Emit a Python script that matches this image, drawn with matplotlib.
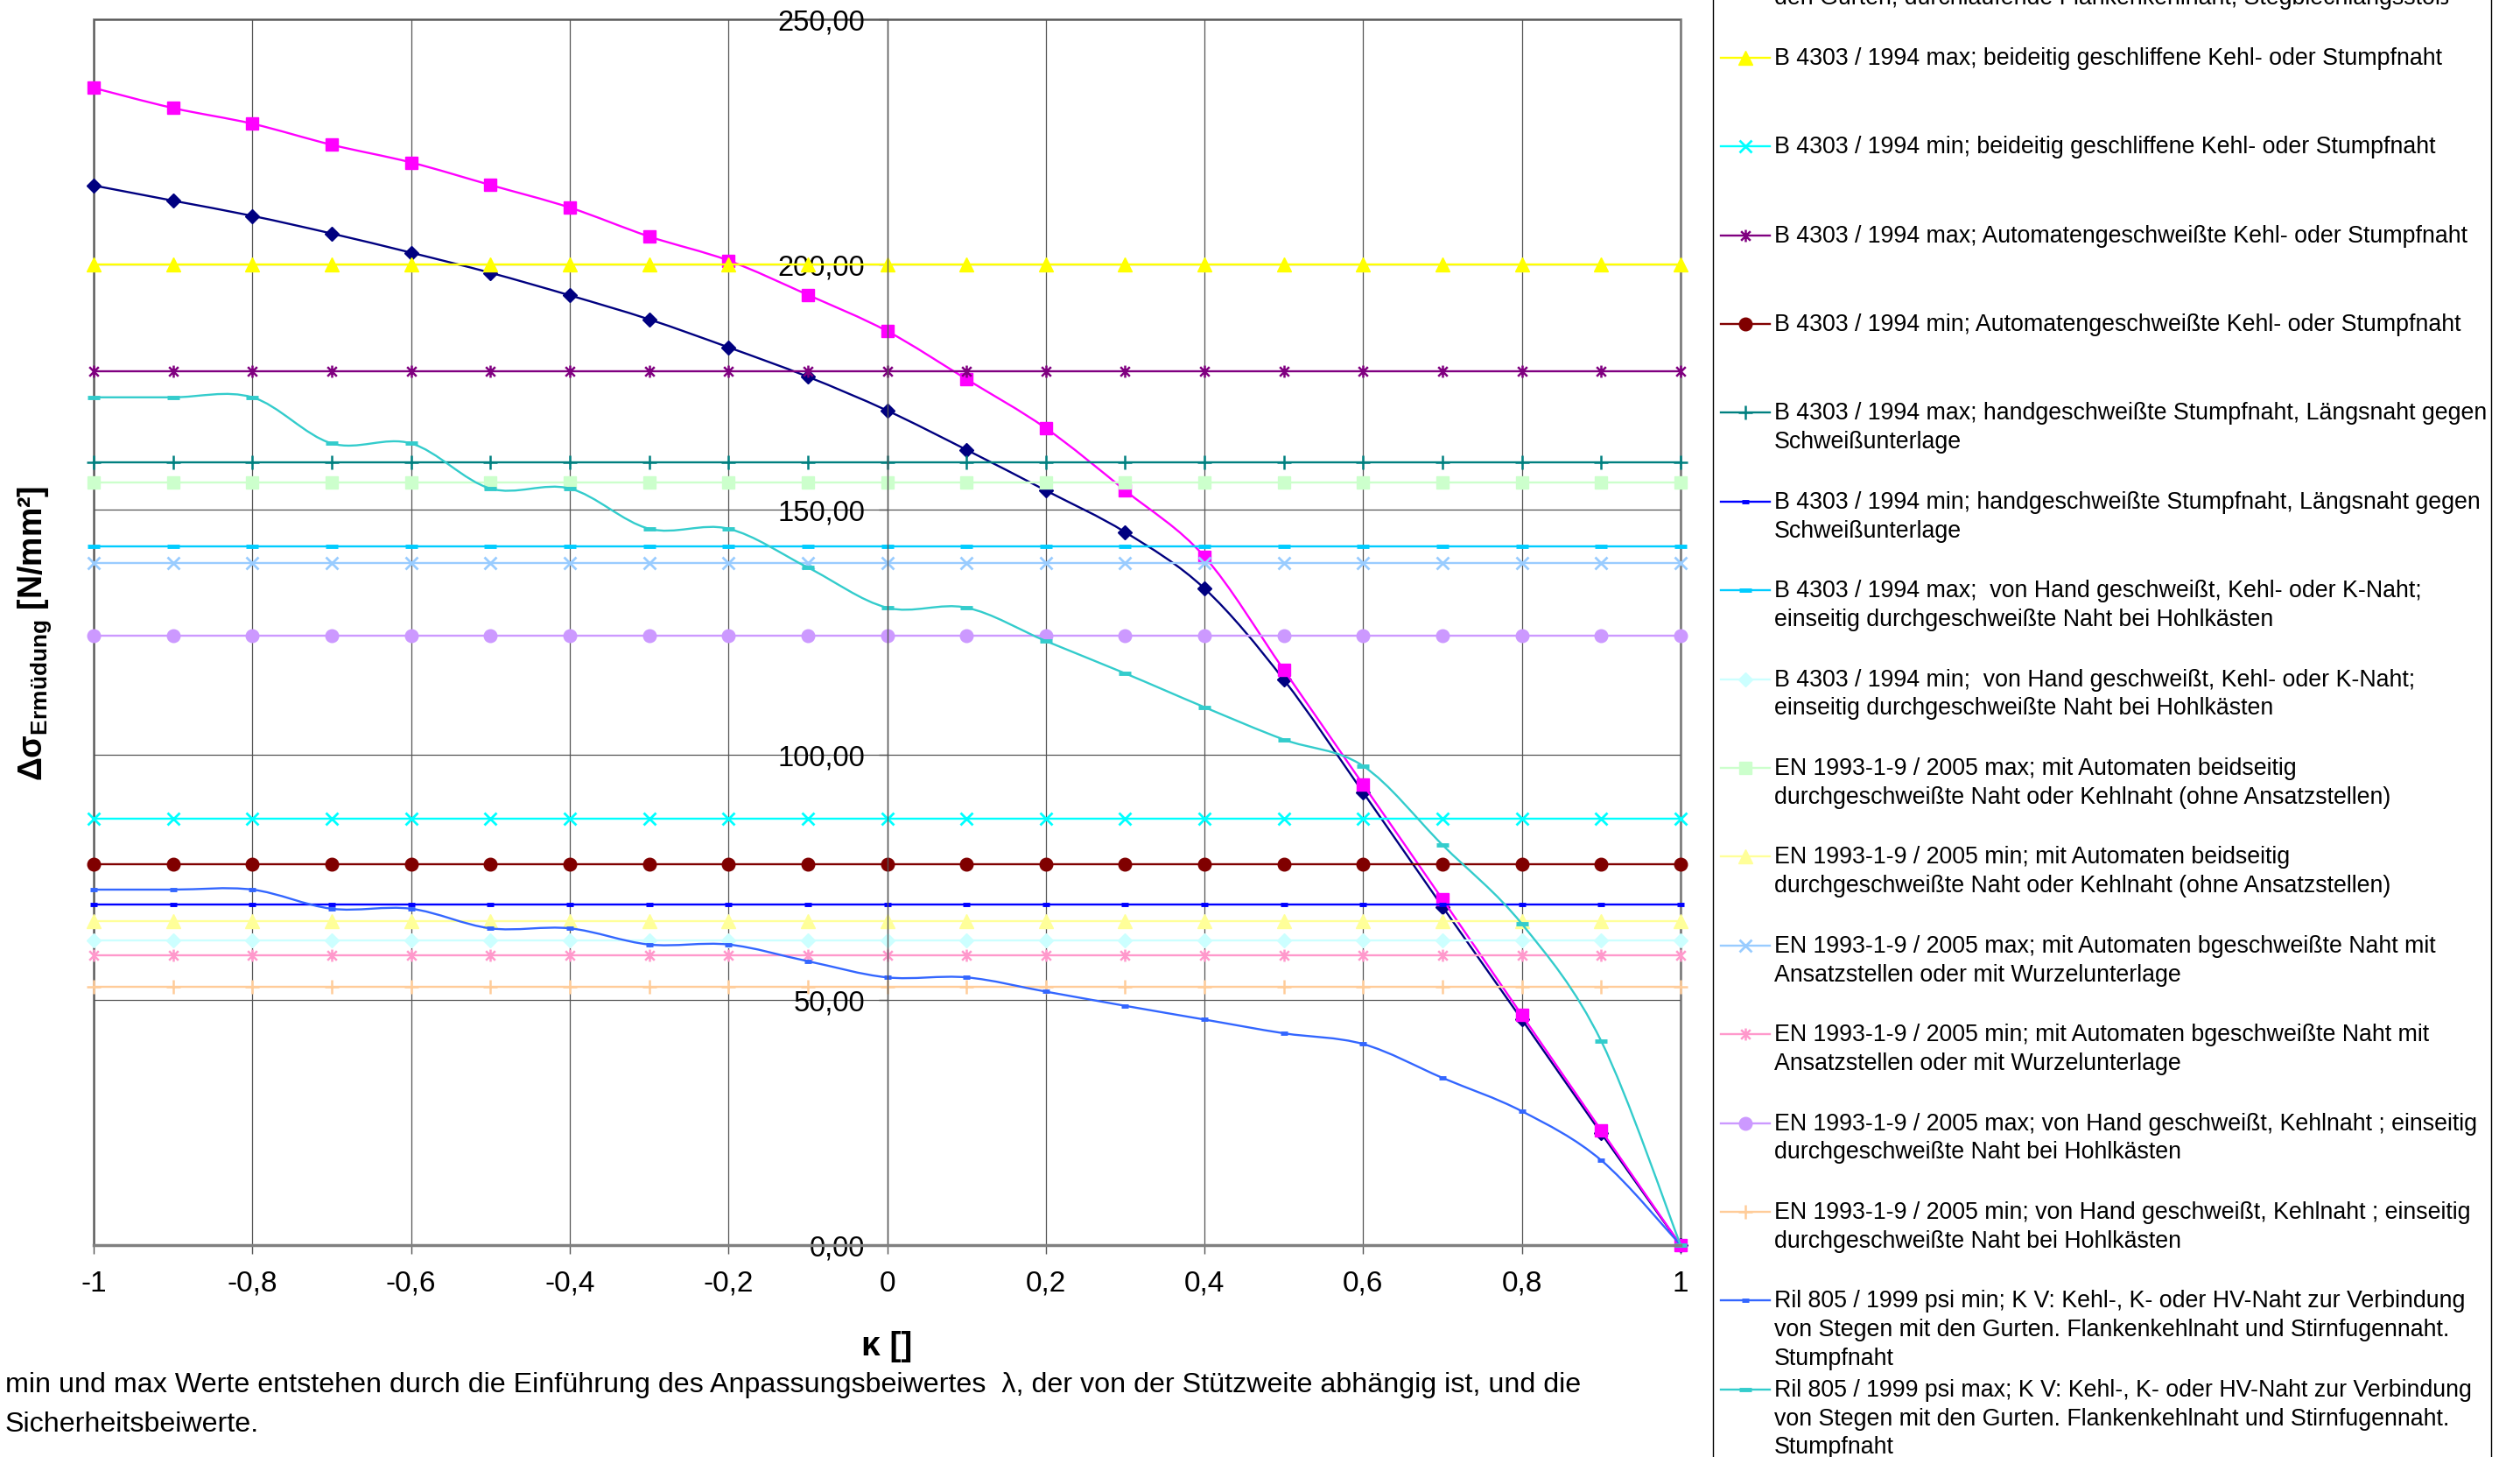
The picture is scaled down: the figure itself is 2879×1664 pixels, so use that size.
import matplotlib.pyplot as plt
import numpy as np
from matplotlib.lines import Line2D
from matplotlib.patches import PathPatch, Rectangle
from matplotlib.path import Path

plt.rcParams["font.family"] = ["Liberation Sans", "DejaVu Sans"]
plt.rcParams["mathtext.fontset"] = "custom"
plt.rcParams["mathtext.rm"] = "Liberation Sans"
plt.rcParams["mathtext.bf"] = "Liberation Sans:bold"
plt.rcParams["mathtext.it"] = "Liberation Sans:italic"

W, H = 2879, 1665

# ---- data -----------------------------------------------------------------
kappa = [-1.0, -0.9, -0.8, -0.7, -0.6, -0.5, -0.4, -0.3, -0.2, -0.1, 0.0,
         0.1, 0.2, 0.3, 0.4, 0.5, 0.6, 0.7, 0.8, 0.9, 1.0]

ril_k4_min = [216.1, 213.0, 209.9, 206.3, 202.4, 198.3, 193.7, 188.8, 183.1, 177.1,
              170.2, 162.2, 153.9, 145.4, 133.9, 115.3, 92.3, 69.0, 46.0, 22.8, 0.0]
ril_k4_max = [236.0, 231.9, 228.7, 224.4, 220.8, 216.2, 211.6, 205.7, 200.8, 193.8,
              186.4, 176.6, 166.6, 153.9, 140.4, 117.3, 93.9, 70.5, 46.9, 23.4, 0.0]
ril_kv_min = [72.5, 72.5, 72.5, 68.6, 68.6, 64.6, 64.6, 61.3, 61.3, 57.9,
              54.6, 54.6, 51.7, 48.8, 46.0, 43.2, 41.0, 34.1, 27.3, 17.3, 0.0]
ril_kv_max = [172.9, 172.9, 172.9, 163.5, 163.5, 154.3, 154.3, 146.1, 146.1, 138.2,
              130.0, 130.0, 123.2, 116.6, 109.7, 103.1, 97.7, 81.6, 65.5, 41.6, 0.0]

# constant levels, independent of kappa
b4303_levels = [200.0, 86.9, 178.3, 77.6, 159.6, 69.5, 142.5, 62.1]
en1993_levels = [155.5, 66.0, 139.1, 59.1, 124.3, 52.6]

labels = [
    "Ril 805 / 1999 psi min; K IV: Kehl-, K- oder HV-Naht zur Verbindung von Stegen mit\n"
    "den Gurten, durchlaufende Flankenkehlnaht, Stegblechlängsstoß",
    "Ril 805 / 1999 psi max; K IV: Kehl-, K- oder HV-Naht zur Verbindung von Stegen mit\n"
    "den Gurten, durchlaufende Flankenkehlnaht, Stegblechlängsstoß",
    "B 4303 / 1994 max; beideitig geschliffene Kehl- oder Stumpfnaht",
    "B 4303 / 1994 min; beideitig geschliffene Kehl- oder Stumpfnaht",
    "B 4303 / 1994 max; Automatengeschweißte Kehl- oder Stumpfnaht",
    "B 4303 / 1994 min; Automatengeschweißte Kehl- oder Stumpfnaht",
    "B 4303 / 1994 max; handgeschweißte Stumpfnaht, Längsnaht gegen\nSchweißunterlage",
    "B 4303 / 1994 min; handgeschweißte Stumpfnaht, Längsnaht gegen\nSchweißunterlage",
    "B 4303 / 1994 max;  von Hand geschweißt, Kehl- oder K-Naht;\n"
    "einseitig durchgeschweißte Naht bei Hohlkästen",
    "B 4303 / 1994 min;  von Hand geschweißt, Kehl- oder K-Naht;\n"
    "einseitig durchgeschweißte Naht bei Hohlkästen",
    "EN 1993-1-9 / 2005 max; mit Automaten beidseitig\n"
    "durchgeschweißte Naht oder Kehlnaht (ohne Ansatzstellen)",
    "EN 1993-1-9 / 2005 min; mit Automaten beidseitig\n"
    "durchgeschweißte Naht oder Kehlnaht (ohne Ansatzstellen)",
    "EN 1993-1-9 / 2005 max; mit Automaten bgeschweißte Naht mit\n"
    "Ansatzstellen oder mit Wurzelunterlage",
    "EN 1993-1-9 / 2005 min; mit Automaten bgeschweißte Naht mit\n"
    "Ansatzstellen oder mit Wurzelunterlage",
    "EN 1993-1-9 / 2005 max; von Hand geschweißt, Kehlnaht ; einseitig\n"
    "durchgeschweißte Naht bei Hohlkästen",
    "EN 1993-1-9 / 2005 min; von Hand geschweißt, Kehlnaht ; einseitig\n"
    "durchgeschweißte Naht bei Hohlkästen",
    "Ril 805 / 1999 psi min; K V: Kehl-, K- oder HV-Naht zur Verbindung\n"
    "von Stegen mit den Gurten. Flankenkehlnaht und Stirnfugennaht.\nStumpfnaht",
    "Ril 805 / 1999 psi max; K V: Kehl-, K- oder HV-Naht zur Verbindung\n"
    "von Stegen mit den Gurten. Flankenkehlnaht und Stirnfugennaht.\nStumpfnaht",
]

colors = ["#000080", "#FF00FF", "#FFFF00", "#00FFFF", "#800080", "#800000",
          "#008080", "#0000FF", "#00CCFF", "#CCFFFF", "#CCFFCC", "#FFFF99",
          "#99CCFF", "#FF99CC", "#CC99FF", "#FFCC99", "#3366FF", "#33CCCC"]

marker_kinds = ["diamond", "square", "triangle", "x", "star", "circle", "plus",
                "dash", "longdash"] * 2

footnote = ("min und max Werte entstehen durch die Einführung des Anpassungsbeiwertes  λ, "
            "der von der Stützweite abhängig ist, und die\nSicherheitsbeiwerte.")

# ---- styles ----------------------------------------------------------------
ASTERISK = Path([(-1, -1), (1, 1), (-1, 1), (1, -1), (0, -1.3), (0, 1.3)],
                [Path.MOVETO, Path.LINETO] * 3)

MARKER_STYLES = {
    "diamond": dict(marker="D", markersize=8.5),
    "square": dict(marker="s", markersize=9.5),
    "triangle": dict(marker="^", markersize=11.5),
    "x": dict(marker="x", markersize=10, markeredgewidth=2),
    "star": dict(marker=ASTERISK, markersize=10, markeredgewidth=1.8,
                 markerfacecolor="none"),
    "circle": dict(marker="o", markersize=10.5),
    "plus": dict(marker="+", markersize=12, markeredgewidth=1.8),
    "dash": dict(marker="_", markersize=6, markeredgewidth=3.5),
    "longdash": dict(marker="_", markersize=10, markeredgewidth=3.5),
}
LW = 1.7


def smooth_path(x, y):
    """Excel-style smoothed line: cubic Bezier segments through the points."""
    pts = np.column_stack([x, y])
    n = len(pts)
    verts, codes = [pts[0]], [Path.MOVETO]
    for i in range(n - 1):
        p0, p1 = pts[max(i - 1, 0)], pts[i]
        p2, p3 = pts[i + 1], pts[min(i + 2, n - 1)]
        verts += [p1 + (p2 - p0) / 6, p2 - (p3 - p1) / 6, p2]
        codes += [Path.CURVE4] * 3
    return Path(verts, codes)


series = [ril_k4_min, ril_k4_max]
series += [np.full(len(kappa), v) for v in b4303_levels]
series += [np.full(len(kappa), v) for v in en1993_levels]
series += [ril_kv_min, ril_kv_max]
smooth = [True, True] + [False] * 14 + [True, True]

fig = plt.figure(figsize=(W / 100, H / 100), dpi=100)
ax = fig.add_axes([107 / W, 1 - 1423 / H, (1920 - 107) / W, 1400 / H])

for vals, color, kind, sm in zip(series, colors, marker_kinds, smooth):
    mstyle = dict(MARKER_STYLES[kind])
    mstyle.setdefault("markerfacecolor", color)
    if sm:
        ax.add_patch(PathPatch(smooth_path(kappa, vals), facecolor="none",
                               edgecolor=color, lw=LW, clip_on=False, zorder=2))
        ax.plot(kappa, vals, ls="none", color=color, markeredgecolor=color,
                clip_on=False, zorder=2, **mstyle)
    else:
        ax.plot(kappa, vals, color=color, lw=LW, markeredgecolor=color,
                clip_on=False, zorder=2, **mstyle)

ax.set_xlim(-1, 1)
ax.set_ylim(0, 250)

xt = [-1.0, -0.8, -0.6, -0.4, -0.2, 0.0, 0.2, 0.4, 0.6, 0.8, 1.0]
ax.set_xticks(xt)
ax.set_xticklabels([f"{v:g}".replace(".", ",") for v in xt])
yt = [0, 50, 100, 150, 200, 250]
ax.set_yticks(yt)
ax.set_yticklabels([f"{v:.2f}".replace(".", ",") for v in yt])

ax.spines["left"].set_position(("data", 0))
ax.spines["left"].set_color("#555555")
ax.spines["left"].set_linewidth(1)
ax.spines["top"].set_visible(False)
ax.spines["right"].set_visible(False)
ax.spines["bottom"].set_color("#808080")
ax.spines["bottom"].set_linewidth(2.5)
ax.patch.set_edgecolor("#808080")
ax.patch.set_linewidth(2)

ax.grid(True, color="#555555", lw=0.9)
ax.tick_params(axis="x", direction="out", length=7, width=1, color="#555555",
               pad=13, labelsize=24)
ax.tick_params(axis="y", direction="out", length=7, width=1, color="#555555",
               pad=11, labelsize=23.5)

ax.set_xlabel("κ []", fontsize=28, fontweight="bold", va="center")
ax.xaxis.set_label_coords(0.5, -0.082)
ax.set_ylabel(r"$\mathbf{\Delta\sigma}_{\mathbf{Ermüdung}}$ [N/mm²]",
              fontsize=27, fontweight="bold", va="center")
ax.yaxis.set_label_coords(-0.037, 0.5)

fig.text(6 / W, 1 - 1567 / H, footnote, fontsize=23.2, va="top", linespacing=1.67)

# ---- legend box on the right (Excel style, fixed entry pitch) --------------
fig.add_artist(Rectangle((1957 / W, -0.05), (2846 - 1957) / W, 1.1,
                         transform=fig.transFigure, facecolor="none",
                         edgecolor="#000000", lw=1))
pitch, first = 101.4, -136.0
for i, (label, color, kind) in enumerate(zip(labels, colors, marker_kinds)):
    y = 1 - (first + i * pitch) / H
    mstyle = dict(MARKER_STYLES[kind])
    mstyle.setdefault("markerfacecolor", color)
    fig.add_artist(Line2D([1966 / W, 2022 / W], [y, y], transform=fig.transFigure,
                          color=color, lw=LW))
    fig.add_artist(Line2D([1994 / W], [y], transform=fig.transFigure, ls="none",
                          color=color, markeredgecolor=color, **mstyle))
    fig.text(2027 / W, y + 13 / H, label, fontsize=19.3, va="top", linespacing=1.34)

fig.savefig("out.png", dpi=100)
